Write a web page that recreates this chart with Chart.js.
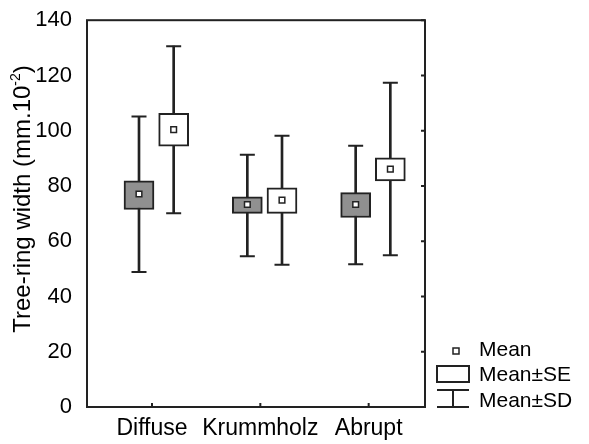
<!DOCTYPE html>
<html>
<head>
<meta charset="utf-8">
<script src="https://cdn.jsdelivr.net/npm/chart.js@4.4.0/dist/chart.umd.min.js"></script>
<style>
  html, body { margin: 0; padding: 0; background: #fff; }
  #wrap { width: 589px; height: 444px; }
</style>
</head>
<body>
<div id="wrap"><canvas id="ringChart" width="589" height="444"></canvas></div>
<script>
// categories on the x axis
var categories = ['Diffuse', 'Krummholz', 'Abrupt'];

// grey boxes (left one of each pair)
var greyMean = [77.1, 73.3, 73.3];
var greySE   = [[71.5, 81.9], [70.1, 76.1], [68.6, 77.6]];
var greySD   = [[48.9, 105.1], [54.6, 91.3], [51.7, 94.6]];

// white boxes (right one of each pair)
var whiteMean = [100.4, 74.9, 86.1];
var whiteSE   = [[94.4, 106.3], [70.1, 79.3], [81.8, 90.2]];
var whiteSD   = [[70.1, 130.6], [51.5, 98.2], [54.9, 117.4]];

var yTicks = [0, 20, 40, 60, 80, 100, 120, 140];

var LINE = '#222';
var FONT = 'Liberation Sans, Arial, sans-serif';

// where the two boxes sit around each category tick
var greyOffset = -0.12;
var whiteOffset = 0.2;

function xy(vals, off) {
    return vals.map(function (v, i) { return { x: i + 1 + off, y: v }; });
}
function ends(ranges, off, k) {
    return ranges.map(function (r, i) { return { x: i + 1 + off, y: r[k] }; });
}

function groupSets(mean, se, sd, off, fill) {
    return [
        // whisker stem
        { type: 'bar', data: xy(sd, off), backgroundColor: LINE, barThickness: 2,
          grouped: false, order: 5 },
        // whisker caps
        { type: 'scatter', data: ends(sd, off, 0).concat(ends(sd, off, 1)),
          pointStyle: 'line', radius: 7.5, borderColor: LINE, borderWidth: 2, order: 4 },
        // SE box
        { type: 'bar', data: xy(se, off), backgroundColor: fill, borderColor: LINE,
          borderWidth: 2, borderSkipped: false, barThickness: 30, grouped: false, order: 3 },
        // mean marker
        { type: 'scatter', data: xy(mean, off), pointStyle: 'rect', radius: 4,
          backgroundColor: '#fff', borderColor: LINE, borderWidth: 1.5, order: 1 }
    ];
}

var framePlugin = {
    id: 'frame',
    afterDraw: function (chart) {
        var ctx = chart.ctx, a = chart.chartArea;
        var xs = chart.scales.x, ys = chart.scales.y;
        ctx.save();
        ctx.strokeStyle = LINE;
        ctx.lineWidth = 2;
        ctx.strokeRect(a.left, a.top, a.right - a.left, a.bottom - a.top);
        // inner tick marks: bottom and right
        ctx.beginPath();
        categories.forEach(function (c, i) {
            var px = xs.getPixelForValue(i + 1);
            ctx.moveTo(px, a.bottom); ctx.lineTo(px, a.bottom - 4);
        });
        yTicks.forEach(function (v) {
            var py = ys.getPixelForValue(v);
            ctx.moveTo(a.right, py); ctx.lineTo(a.right - 4, py);
        });
        ctx.stroke();

        // y axis title with superscript
        ctx.fillStyle = '#000';
        ctx.textBaseline = 'alphabetic';
        var main = 'Tree-ring width (mm.10', sup = '-2', tail = ')';
        ctx.font = '24px ' + FONT;
        var wMain = ctx.measureText(main).width, wTail = ctx.measureText(tail).width;
        ctx.font = '14px ' + FONT;
        var wSup = ctx.measureText(sup).width;
        var total = wMain + wSup + wTail;
        ctx.translate(30, 199);
        ctx.rotate(-Math.PI / 2);
        var x0 = -total / 2;
        ctx.font = '24px ' + FONT;
        ctx.fillText(main, x0, 0);
        ctx.font = '14px ' + FONT;
        ctx.fillText(sup, x0 + wMain, -10);
        ctx.font = '24px ' + FONT;
        ctx.fillText(tail, x0 + wMain + wSup, 0);
        ctx.restore();

        // legend
        ctx.save();
        var lx = a.right + 12;
        ctx.strokeStyle = LINE;
        ctx.fillStyle = '#fff';
        ctx.lineWidth = 1.5;
        ctx.fillRect(lx + 16, a.bottom - 59, 6, 6);
        ctx.strokeRect(lx + 16, a.bottom - 59, 6, 6);
        ctx.lineWidth = 2;
        ctx.strokeRect(lx, a.bottom - 41, 32, 16);
        ctx.beginPath();
        ctx.moveTo(lx, a.bottom - 17); ctx.lineTo(lx + 32, a.bottom - 17);
        ctx.moveTo(lx + 16, a.bottom - 17); ctx.lineTo(lx + 16, a.bottom);
        ctx.moveTo(lx, a.bottom); ctx.lineTo(lx + 32, a.bottom);
        ctx.stroke();
        ctx.fillStyle = '#000';
        ctx.font = '21px ' + FONT;
        ctx.textBaseline = 'alphabetic';
        ctx.fillText('Mean', lx + 42, a.bottom - 51);
        ctx.fillText('Mean\u00b1SE', lx + 42, a.bottom - 26);
        ctx.fillText('Mean\u00b1SD', lx + 42, a.bottom);
        ctx.restore();
    }
};

var ctx = document.getElementById('ringChart').getContext('2d');
new Chart(ctx, {
    type: 'bar',
    data: {
        datasets: groupSets(greyMean, greySE, greySD, greyOffset, '#909090')
            .concat(groupSets(whiteMean, whiteSE, whiteSD, whiteOffset, '#ffffff'))
    },
    options: {
        responsive: false,
        animation: false,
        devicePixelRatio: 1,
        layout: { padding: { top: 15, right: 164, left: 0, bottom: 0 } },
        plugins: { legend: { display: false }, tooltip: { enabled: false } },
        scales: {
            x: {
                type: 'linear',
                min: 0.4, max: 3.52,
                offset: false,
                grid: { display: false },
                border: { display: false },
                afterBuildTicks: function (s) {
                    s.ticks = categories.map(function (c, i) { return { value: i + 1 }; });
                },
                afterFit: function (s) { s.height = 37; },
                ticks: {
                    padding: 0,
                    autoSkip: false,
                    color: '#000',
                    font: { family: FONT, size: 23 },
                    maxRotation: 0,
                    callback: function (v) { return categories[v - 1]; }
                }
            },
            y: {
                min: 0, max: 140,
                grid: { display: false },
                border: { display: false },
                afterBuildTicks: function (s) {
                    s.ticks = yTicks.map(function (v) { return { value: v }; });
                },
                afterFit: function (s) { s.width = 87; },
                ticks: {
                    padding: 7,
                    color: '#000',
                    font: { family: FONT, size: 22 }
                }
            }
        }
    },
    plugins: [framePlugin]
});
</script>
</body>
</html>
